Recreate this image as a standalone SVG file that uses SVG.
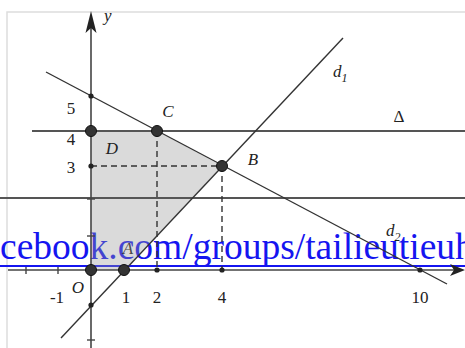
<svg xmlns="http://www.w3.org/2000/svg" width="465" height="348" viewBox="0 0 465 348">
<style>
.ax{stroke:#444;stroke-width:1.6;fill:none}
.ln{stroke:#333;stroke-width:1.4;fill:none}
.hz{stroke:#555;stroke-width:2;fill:none}
.ds{stroke:#333;stroke-width:1.4;stroke-dasharray:6 4;fill:none}
.big{fill:#333;stroke:#111;stroke-width:1}
.sm{fill:#222}
.lb{font-family:"Liberation Serif","Times New Roman",serif;font-size:17px;fill:#222}
.it{font-style:italic}
.tk{stroke:#444;stroke-width:1.4}
</style>
<rect x="0" y="0" width="465" height="348" fill="#fff"/>
<path d="M7,348 V12 H465" stroke="#ddd" stroke-width="1.5" fill="none"/>
<g id="link">
<text x="0" y="259" font-family="'Liberation Serif','Times New Roman',serif" font-size="37.5" fill="#1515f0">cebook.com/groups/tailieutieuh</text>
<line x1="0" y1="266" x2="465" y2="266" stroke="#1515f0" stroke-width="2"/>
</g>
<g id="region">
<polygon points="91,131 157,131 222,166 124,270 91,270" fill="#999" fill-opacity="0.36"/>
</g>
<g id="connectors">
<line class="hz" x1="32" y1="131" x2="465" y2="131"/>
<line class="hz" x1="0" y1="198" x2="465" y2="198"/>
<line class="ax" x1="8" y1="270" x2="458" y2="270"/>
<path d="M465,270 L450,264 L454,270 L450,276 Z" fill="#222"/>
<line class="ax" x1="91" y1="22" x2="91" y2="348"/>
<path d="M91,11 L85.5,33 L91,28 L96.5,33 Z" fill="#222"/>
<line class="tk" x1="26" y1="267" x2="26" y2="274"/>
<line class="tk" x1="58" y1="267" x2="58" y2="274"/>
<line class="tk" x1="87" y1="199" x2="95" y2="199"/>
<line class="tk" x1="87" y1="236" x2="95" y2="236"/>
<line class="tk" x1="87" y1="340" x2="95" y2="340"/>
<line class="ln" x1="61" y1="338" x2="343" y2="38"/>
<line class="ln" x1="46" y1="72" x2="447" y2="284"/>
<line class="ds" x1="91" y1="166" x2="222" y2="166"/>
<line class="ds" x1="157" y1="131" x2="157" y2="270"/>
<line class="ds" x1="222" y1="166" x2="222" y2="270"/>
</g>
<g id="point-D4"><circle class="big" cx="91" cy="131" r="5.5"/></g>
<g id="point-C"><circle class="big" cx="157" cy="131" r="5.5"/><text class="lb it" x="168" y="117" text-anchor="middle">C</text></g>
<g id="point-B"><circle class="big" cx="222" cy="166" r="5.5"/><text class="lb it" x="253" y="165" text-anchor="middle">B</text></g>
<g id="point-O"><circle class="big" cx="91" cy="270" r="5.5"/><text class="lb it" x="78" y="293" text-anchor="middle">O</text></g>
<g id="point-A"><text class="lb it" x="128" y="254" text-anchor="middle" fill-opacity="0.8">A</text><circle class="big" cx="124" cy="270" r="5.5"/></g>
<g id="ticks-small">
<circle class="sm" cx="91" cy="96" r="2.6"/>
<circle class="sm" cx="91" cy="166" r="2.6"/>
<circle class="sm" cx="91" cy="305" r="2.6"/>
<circle class="sm" cx="157" cy="270" r="2.6"/>
<circle class="sm" cx="222" cy="270" r="2.6"/>
<circle class="sm" cx="420" cy="270" r="2.6"/>
</g>
<g id="labels">
<text class="lb it" x="104" y="21">y</text>
<text class="lb" x="71" y="114" text-anchor="middle">5</text>
<text class="lb" x="71" y="145" text-anchor="middle">4</text>
<text class="lb" x="71" y="173" text-anchor="middle">3</text>
<text class="lb it" x="112" y="154" text-anchor="middle">D</text>
<text class="lb" x="57" y="303" text-anchor="middle">-1</text>
<text class="lb" x="126" y="303" text-anchor="middle">1</text>
<text class="lb" x="157" y="303" text-anchor="middle">2</text>
<text class="lb" x="222" y="303" text-anchor="middle">4</text>
<text class="lb" x="420" y="303" text-anchor="middle">10</text>
<text class="lb" x="399" y="122" text-anchor="middle">Δ</text>
<text class="lb it" x="333" y="77">d<tspan font-size="12" dy="5">1</tspan></text>
<text class="lb it" x="386" y="236">d<tspan font-size="12" dy="5">2</tspan></text>
</g>
</svg>
